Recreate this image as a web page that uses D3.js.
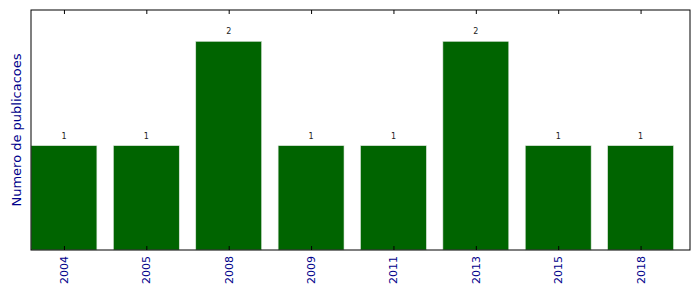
<!DOCTYPE html>
<html lang="en">
<head>
    <meta charset="UTF-8">
    <script src="https://cdn.jsdelivr.net/npm/d3@7"></script>
    <title>Publicacoes</title>
    <style>
        body { margin: 0; background: white; }
        svg { font-family: "DejaVu Sans", sans-serif; }
    </style>
</head>
<body>
    <div id="chart"></div>
    <script>
        // data
        const years = ["2004", "2005", "2008", "2009", "2011", "2013", "2015", "2018"];
        const counts = [1, 1, 2, 1, 1, 2, 1, 1];

        const width = 699, height = 292;
        const margin = {top: 10, right: 9, bottom: 42, left: 31};
        const plotW = width - margin.left - margin.right;
        const plotH = height - margin.top - margin.bottom;

        const svg = d3.select("#chart").append("svg")
            .attr("width", width)
            .attr("height", height);

        const g = svg.append("g")
            .attr("transform", `translate(${margin.left},${margin.top})`);

        // matplotlib-like layout: bar i spans [i, i+0.8], xlim [0, n]
        const x = d3.scaleLinear().domain([0, years.length]).range([0, plotW]);
        const y = d3.scaleLinear().domain([0, 2.3]).range([plotH, 0]);

        g.selectAll("rect.bar")
            .data(counts)
            .enter()
            .append("rect")
            .attr("class", "bar")
            .attr("x", (d, i) => x(i))
            .attr("width", x(0.8) - x(0))
            .attr("y", d => y(d))
            .attr("height", d => y(0) - y(d))
            .attr("fill", "#006400")
            .attr("stroke", "#dfe8df")
            .attr("stroke-width", 0.6);

        // value labels
        g.selectAll("text.val")
            .data(counts)
            .enter()
            .append("text")
            .attr("class", "val")
            .attr("x", (d, i) => x(i + 0.4))
            .attr("y", d => y(d) - 7)
            .attr("text-anchor", "middle")
            .attr("font-size", 8)
            .attr("fill", "#222")
            .text(d => d);

        // ticks inside, bottom and top
        const tickPos = years.map((d, i) => i + 0.4);
        const xAxisB = d3.axisBottom(x).tickValues(tickPos).tickSize(-4).tickFormat("");
        const xAxisT = d3.axisTop(x).tickValues(tickPos).tickSize(-4).tickFormat("");
        g.append("g").attr("transform", `translate(0,${plotH})`).call(xAxisB)
            .call(a => a.select(".domain").remove());
        g.append("g").call(xAxisT)
            .call(a => a.select(".domain").remove());

        // tick labels rotated
        g.selectAll("text.year")
            .data(years)
            .enter()
            .append("text")
            .attr("class", "year")
            .attr("transform", (d, i) => `translate(${x(i + 0.4) + 4},${plotH + 6}) rotate(-90)`)
            .attr("text-anchor", "end")
            .attr("font-size", 11)
            .attr("fill", "#00008b")
            .text(d => d);

        // frame
        g.append("rect")
            .attr("width", plotW)
            .attr("height", plotH)
            .attr("fill", "none")
            .attr("stroke", "black")
            .attr("stroke-width", 1);

        svg.append("text")
            .attr("transform", `translate(21,${margin.top + plotH / 2}) rotate(-90)`)
            .attr("text-anchor", "middle")
            .attr("font-size", 13)
            .attr("fill", "#00008b")
            .text("Numero de publicacoes");
    </script>
</body>
</html>
